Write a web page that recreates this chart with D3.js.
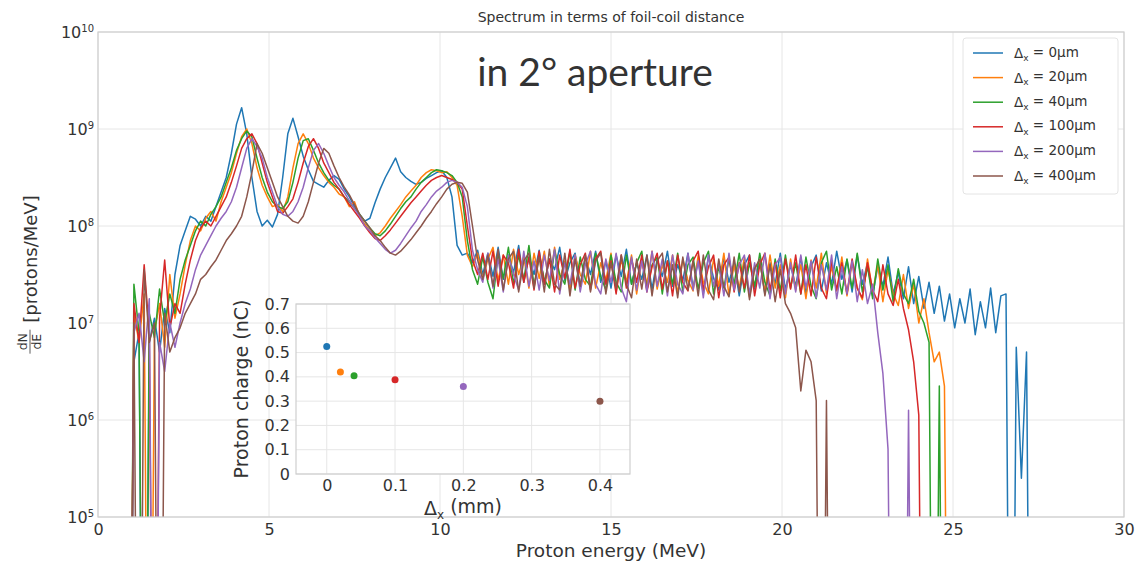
<!DOCTYPE html>
<html>
<head>
<meta charset="utf-8">
<script src="https://cdn.jsdelivr.net/npm/d3@7"></script>
<style>
body { margin: 0; background: #fff; }
svg text { font-family: "DejaVu Sans", sans-serif; fill: #333; }
</style>
</head>
<body>
<div id="chart"></div>
<script>
// energy bins: first bin and bin width (MeV)
var E0 = 0.9;
var dE = 0.15;

// log10(dN/dE) per bin; 0 = empty bin
var spec0um = [
  0, 6.6, 6.9, 0, 6.8, 7.05, 6.7, 7.15, 6.9, 7.5,
  7.8, 7.95, 8.1, 8.07, 8.0, 8.1, 8.05, 8.2, 8.35, 8.5,
  8.75, 9.05, 9.22, 8.95, 8.5, 8.15, 8.0, 8.06, 7.99, 8.12,
  8.5, 8.95, 9.11, 8.92, 8.72, 8.58, 8.46, 8.43, 8.4, 8.47,
  8.52, 8.48, 8.38, 8.3, 8.2, 8.12, 8.05, 8.08, 8.24, 8.38,
  8.5, 8.6, 8.7, 8.56, 8.5, 8.46, 8.43, 8.45, 8.49, 8.52,
  8.55, 8.57, 8.5, 8.3, 7.8, 7.7, 7.72, 7.62, 7.75, 7.5,
  7.72, 7.48, 7.78, 7.45, 7.7, 7.52, 7.8, 7.42, 7.68, 7.5,
  7.75, 7.4, 7.66, 7.55, 7.78, 7.44, 7.62, 7.72, 7.38, 7.68,
  7.5, 7.74, 7.42, 7.64, 7.36, 7.7, 7.48, 7.76, 7.4, 7.62,
  7.45, 7.7, 7.35, 7.66, 7.48, 7.74, 7.38, 7.6, 7.44, 7.72,
  7.36, 7.65, 7.3, 7.7, 7.46, 7.34, 7.68, 7.42, 7.62, 7.28,
  7.6, 7.7, 7.35, 7.64, 7.3, 7.62, 7.4, 7.72, 7.34, 7.6,
  7.38, 7.68, 7.3, 7.58, 7.7, 7.33, 7.62, 7.4, 7.74, 7.45,
  7.65, 7.32, 7.7, 7.4, 7.62, 7.28, 7.58, 7.38, 7.68, 7.3,
  7.52, 7.25, 7.58, 7.2, 7.48, 7.15, 7.42, 7.1, 7.38, 7.02,
  7.3, 6.95, 7.25, 7.0, 7.35, 6.88, 7.22, 6.95, 7.36, 6.9,
  7.28, 7.3, 0, 6.75, 5.4, 6.7, 0
];
var spec20um = [
  0, 7.1, 6.8, 7.3, 0, 6.9, 7.2, 6.75, 7.5, 7.05,
  7.3, 7.6, 7.85, 8.0, 7.95, 8.08, 8.15, 8.05, 8.25, 8.4,
  8.55, 8.75, 8.92, 9.0, 8.85, 8.6, 8.42, 8.3, 8.2, 8.22,
  8.15, 8.3, 8.6, 8.85, 8.95, 8.85, 8.7, 8.6, 8.52, 8.45,
  8.4, 8.33, 8.3, 8.2, 8.25, 8.1, 8.02, 7.95, 7.9, 7.93,
  8.0, 8.08, 8.15, 8.22, 8.3, 8.36, 8.42, 8.5, 8.55, 8.58,
  8.57, 8.55, 8.56, 8.5, 8.42, 8.1, 7.7, 7.58, 7.72, 7.45,
  7.66, 7.78, 7.44, 7.7, 7.4, 7.76, 7.5, 7.68, 7.36, 7.72,
  7.46, 7.74, 7.38, 7.78, 7.45, 7.64, 7.34, 7.7, 7.5, 7.4,
  7.74, 7.36, 7.62, 7.44, 7.72, 7.32, 7.66, 7.42, 7.7, 7.3,
  7.64, 7.4, 7.74, 7.35, 7.6, 7.42, 7.7, 7.3, 7.66, 7.44,
  7.33, 7.7, 7.42, 7.3, 7.66, 7.38, 7.72, 7.28, 7.6, 7.36,
  7.68, 7.27, 7.56, 7.64, 7.32, 7.7, 7.36, 7.6, 7.26, 7.66,
  7.34, 7.6, 7.25, 7.65, 7.36, 7.72, 7.3, 7.58, 7.33, 7.68,
  7.28, 7.62, 7.36, 7.24, 7.66, 7.32, 7.6, 7.22, 7.55, 7.3,
  7.18, 7.5, 7.15, 7.4, 7.0, 7.25, 6.9, 6.6, 6.7, 6.35,
  0
];
var spec40um = [
  0, 7.4, 6.9, 0, 7.1, 6.85, 7.35, 7.0, 7.3, 7.1,
  7.45, 7.65, 7.8, 7.95, 8.05, 8.0, 8.12, 8.2, 8.3, 8.45,
  8.6, 8.78, 8.9, 8.98, 8.92, 8.7, 8.5, 8.35, 8.25, 8.2,
  8.18, 8.25, 8.45, 8.7, 8.88, 8.9, 8.78, 8.65, 8.55, 8.47,
  8.42, 8.38, 8.3, 8.25, 8.18, 8.12, 8.05, 7.98, 7.92, 7.9,
  7.95, 8.02, 8.1, 8.18, 8.25, 8.3, 8.38, 8.45, 8.5, 8.55,
  8.58, 8.57, 8.55, 8.52, 8.45, 8.3, 7.85, 7.55, 7.4, 7.68,
  7.42, 7.25, 7.7, 7.46, 7.78, 7.4, 7.7, 7.44, 7.8, 7.38,
  7.7, 7.45, 7.36, 7.75, 7.5, 7.4, 7.74, 7.34, 7.68, 7.45,
  7.38, 7.72, 7.48, 7.34, 7.7, 7.42, 7.32, 7.7, 7.4, 7.62,
  7.74, 7.34, 7.6, 7.68, 7.3, 7.64, 7.4, 7.72, 7.32, 7.6,
  7.68, 7.35, 7.62, 7.74, 7.3, 7.58, 7.36, 7.66, 7.4, 7.72,
  7.32, 7.62, 7.38, 7.72, 7.42, 7.28, 7.66, 7.33, 7.7, 7.36,
  7.62, 7.3, 7.68, 7.38, 7.25, 7.62, 7.74, 7.34, 7.58, 7.3,
  7.66, 7.36, 7.72, 7.32, 7.58, 7.25, 7.66, 7.34, 7.6, 7.22,
  7.56, 7.3, 7.2, 7.45, 7.12, 7.0, 6.8, 0, 6.35, 0
];
var spec100um = [
  0, 7.2, 6.8, 7.6, 6.9, 0, 7.05, 7.65, 6.95, 7.2,
  7.1, 7.4, 7.65, 7.85, 7.98, 8.05, 8.0, 8.1, 8.2, 8.3,
  8.45, 8.62, 8.8, 8.9, 8.95, 8.85, 8.65, 8.45, 8.3, 8.15,
  8.13, 8.2, 8.28, 8.45, 8.65, 8.82, 8.9, 8.8, 8.65, 8.55,
  8.45, 8.38, 8.3, 8.22, 8.15, 8.08, 8.0, 7.93, 7.87, 7.85,
  7.9, 7.96, 8.03, 8.1, 8.17, 8.24, 8.3, 8.36, 8.42, 8.47,
  8.5, 8.52, 8.5, 8.48, 8.45, 8.38, 8.0, 7.65, 7.5, 7.72,
  7.45, 7.74, 7.38, 7.7, 7.62, 7.36, 7.76, 7.42, 7.68, 7.34,
  7.74, 7.4, 7.66, 7.32, 7.7, 7.46, 7.76, 7.36, 7.6, 7.72,
  7.34, 7.66, 7.74, 7.4, 7.64, 7.3, 7.7, 7.36, 7.66, 7.42,
  7.7, 7.32, 7.58, 7.72, 7.35, 7.64, 7.28, 7.7, 7.42, 7.33,
  7.64, 7.74, 7.34, 7.58, 7.7, 7.26, 7.6, 7.68, 7.32, 7.62,
  7.36, 7.7, 7.28, 7.6, 7.72, 7.34, 7.62, 7.26, 7.66, 7.35,
  7.7, 7.3, 7.6, 7.28, 7.68, 7.36, 7.25, 7.64, 7.34, 7.62,
  7.3, 7.66, 7.36, 7.26, 7.62, 7.34, 7.22, 7.6, 7.3, 7.18,
  7.45, 7.15, 6.93, 6.6, 6.05, 0
];
var spec200um = [
  0, 6.9, 7.1, 6.6, 7.25, 0, 6.8, 6.5, 7.0, 6.75,
  7.0, 7.2, 7.35, 7.55, 7.7, 7.8, 7.9, 8.0, 8.08, 8.15,
  8.25, 8.4, 8.6, 8.8, 8.9, 8.82, 8.7, 8.5, 8.35, 8.2,
  8.12, 8.1, 8.15, 8.25, 8.4, 8.6, 8.78, 8.85, 8.75, 8.62,
  8.5, 8.42, 8.35, 8.26, 8.18, 8.1, 8.0, 7.95, 7.88, 7.82,
  7.76, 7.72, 7.75, 7.82, 7.9, 7.98, 8.05, 8.15, 8.22, 8.3,
  8.36, 8.4, 8.45, 8.47, 8.45, 8.4, 8.2, 7.75, 7.55, 7.42,
  7.72, 7.36, 7.66, 7.32, 7.7, 7.5, 7.34, 7.74, 7.38, 7.64,
  7.34, 7.7, 7.44, 7.76, 7.3, 7.62, 7.4, 7.7, 7.32, 7.6,
  7.74, 7.4, 7.3, 7.66, 7.42, 7.72, 7.36, 7.22, 7.68, 7.34,
  7.64, 7.32, 7.74, 7.38, 7.66, 7.28, 7.7, 7.4, 7.3, 7.72,
  7.34, 7.64, 7.26, 7.7, 7.38, 7.62, 7.28, 7.72, 7.34, 7.6,
  7.7, 7.3, 7.62, 7.36, 7.72, 7.25, 7.6, 7.68, 7.3, 7.62,
  7.32, 7.7, 7.36, 7.64, 7.26, 7.6, 7.34, 7.7, 7.25, 7.58,
  7.3, 7.64, 7.22, 7.55, 7.2, 7.4, 6.9, 6.48, 5.7, 0,
  0, 0, 6.1, 0
];
var spec400um = [
  0, 7.0, 0, 7.55, 6.8, 7.0, 0, 7.1, 6.7, 6.85,
  6.95, 7.1, 7.2, 7.3, 7.45, 7.5, 7.58, 7.65, 7.75, 7.85,
  7.92, 8.0, 8.1, 8.3, 8.55, 8.85, 8.75, 8.6, 8.45, 8.3,
  8.2, 8.1, 8.05, 8.03, 8.1, 8.25, 8.45, 8.65, 8.8, 8.75,
  8.62, 8.5, 8.4, 8.32, 8.22, 8.12, 8.05, 7.98, 7.9, 7.85,
  7.78, 7.72, 7.7, 7.74, 7.8, 7.86, 7.93, 8.0, 8.08, 8.15,
  8.23, 8.3, 8.38, 8.43, 8.45, 8.44, 8.35, 8.0, 7.65, 7.45,
  7.7, 7.38, 7.76, 7.34, 7.66, 7.74, 7.32, 7.64, 7.72, 7.36,
  7.68, 7.32, 7.76, 7.4, 7.34, 7.72, 7.28, 7.66, 7.38, 7.7,
  7.32, 7.64, 7.72, 7.3, 7.62, 7.36, 7.7, 7.4, 7.26, 7.66,
  7.35, 7.7, 7.28, 7.64, 7.72, 7.32, 7.6, 7.26, 7.68, 7.34,
  7.64, 7.28, 7.7, 7.34, 7.24, 7.66, 7.38, 7.27, 7.68, 7.32,
  7.62, 7.24, 7.56, 7.66, 7.28, 7.6, 7.22, 7.55, 7.2, 7.1,
  6.95, 6.3, 6.72, 6.6, 6.2, 0, 6.2, 0
];

var seriesData = [spec0um, spec20um, spec40um, spec100um, spec200um, spec400um];
var legendLabels = ["0μm", "20μm", "40μm", "100μm", "200μm", "400μm"];
var colors = ["#1f77b4", "#ff7f0e", "#2ca02c", "#d62728", "#9467bd", "#8c564b"];

var xTicks = [0, 5, 10, 15, 20, 25, 30];
var yTicks = [1e5, 1e6, 1e7, 1e8, 1e9, 1e10];

// inset: proton charge vs foil-coil distance
var insetDelta = [0, 0.02, 0.04, 0.1, 0.2, 0.4];
var insetCharge = [0.525, 0.42, 0.405, 0.388, 0.36, 0.30];
var insetXTicks = [0, 0.1, 0.2, 0.3, 0.4];
var insetYTicks = [0, 0.1, 0.2, 0.3, 0.4, 0.5, 0.6, 0.7];

var width = 1142;
var height = 566;
// plot box (window.top is read-only, so use own names)
var pLeft = 98, pRight = 1124, pTop = 32, pBottom = 517;
var gridColor = "#e6e6e6";
var spineColor = "#cfcfcf";

var svg = d3.select('#chart').append('svg')
      .attr('width', width)
      .attr('height', height)

var x = d3.scaleLinear().domain([0, 30]).range([pLeft, pRight]);
var y = d3.scaleLog().domain([1e5, 1e10]).range([pBottom, pTop]);

// grid
svg.append('g').selectAll('line').data(xTicks).enter().append('line')
      .attr('x1', d => x(d)).attr('x2', d => x(d))
      .attr('y1', pTop).attr('y2', pBottom)
      .attr('stroke', gridColor)
svg.append('g').selectAll('line').data(yTicks).enter().append('line')
      .attr('x1', pLeft).attr('x2', pRight)
      .attr('y1', d => y(d)).attr('y2', d => y(d))
      .attr('stroke', gridColor)

// axes
var xAxis = d3.axisBottom(x).tickValues(xTicks).tickSize(0).tickPadding(7).tickFormat(d3.format('d'));
var yAxis = d3.axisLeft(y).tickValues(yTicks).tickSize(0).tickPadding(4).tickFormat(d => '10');

var gx = svg.append('g').attr('transform', 'translate(0,' + pBottom + ')').call(xAxis);
var gy = svg.append('g').attr('transform', 'translate(' + pLeft + ',0)').call(yAxis);
[gx, gy].forEach(function (g) {
      g.select('.domain').remove();
      g.selectAll('text').style('font-size', '16px').attr('fill', '#333');
});
// put the exponent as superscript
gy.selectAll('.tick text').each(function (d) {
      var t = d3.select(this);
      t.text('10');
      t.append('tspan').attr('dy', '-0.6em').style('font-size', '10px').text(Math.round(Math.log10(d)));
});

// lines
svg.append('clipPath').attr('id', 'plotClip').append('rect')
      .attr('x', pLeft).attr('y', pTop).attr('width', pRight - pLeft).attr('height', pBottom - pTop);

var line = d3.line()
      .x((d, i) => x(E0 + i * dE))
      .y(d => y(Math.pow(10, d)));

svg.append('g').attr('clip-path', 'url(#plotClip)')
      .selectAll('path').data(seriesData).enter().append('path')
      .attr('d', d => line(d))
      .attr('fill', 'none')
      .attr('stroke', (d, i) => colors[i])
      .attr('stroke-width', 1.5)
      .attr('stroke-linejoin', 'round')

// frame
svg.append('rect')
      .attr('x', pLeft).attr('y', pTop).attr('width', pRight - pLeft).attr('height', pBottom - pTop)
      .attr('fill', 'none').attr('stroke', spineColor).attr('stroke-width', 1.2)

// title and labels
svg.append('text')
      .attr('x', (pLeft + pRight) / 2).attr('y', 22)
      .style('text-anchor', 'middle').style('font-size', '14px')
      .text('Spectrum in terms of foil-coil distance')

svg.append('text')
      .attr('x', (pLeft + pRight) / 2).attr('y', 557)
      .style('text-anchor', 'middle').style('font-size', '18.5px')
      .text('Proton energy (MeV)')

svg.append('text')
      .attr('x', 595).attr('y', 86)
      .style('text-anchor', 'middle').style('font-size', '39px')
      .style('font-family', 'Lato, sans-serif').attr('fill', '#222')
      .text('in 2° aperture')

// y label: fraction dN/dE followed by [protons/MeV], rotated
var yl = svg.append('g').attr('transform', 'translate(30,' + ((pTop + pBottom) / 2) + ') rotate(-90)');
var ylText = yl.append('text').attr('y', 7).style('font-size', '18px').text('[protons/MeV]');
var textLen = ylText.node().getComputedTextLength();
var fracW = 24, gap = 7;
var startX = -(fracW + gap + textLen) / 2;
ylText.attr('x', startX + fracW + gap);
yl.append('text').attr('x', startX + fracW / 2).attr('y', -3)
      .style('text-anchor', 'middle').style('font-size', '12.5px').text('dN');
yl.append('line').attr('x1', startX).attr('x2', startX + fracW)
      .attr('y1', 0).attr('y2', 0).attr('stroke', '#333').attr('stroke-width', 0.8);
yl.append('text').attr('x', startX + fracW / 2).attr('y', 11)
      .style('text-anchor', 'middle').style('font-size', '12.5px').text('dE');

// legend
var legend = svg.append('g');
legend.append('rect')
      .attr('x', 963).attr('y', 38).attr('width', 155).attr('height', 156)
      .attr('rx', 3).attr('fill', '#fff').attr('stroke', '#e4e4e4')
var rows = legend.selectAll('g.row').data(legendLabels).enter().append('g')
      .attr('transform', (d, i) => 'translate(0,' + (53 + i * 24.6) + ')');
rows.append('line').attr('x1', 973).attr('x2', 1003).attr('y1', 0).attr('y2', 0)
      .attr('stroke', (d, i) => colors[i]).attr('stroke-width', 1.5);
var lt = rows.append('text').attr('x', 1014).attr('y', 5).style('font-size', '13.5px');
lt.append('tspan').text('Δ');
lt.append('tspan').attr('dy', '0.3em').style('font-size', '9px').text('x');
lt.append('tspan').attr('dy', '-0.3em').text(d => ' = ' + d);

// inset
var ix = d3.scaleLinear().domain([-0.045, 0.444]).range([296, 630]);
var iy = d3.scaleLinear().domain([0, 0.7]).range([474, 304]);
var inset = svg.append('g');
inset.append('rect').attr('x', 296).attr('y', 304).attr('width', 334).attr('height', 170).attr('fill', '#fff');
inset.append('g').selectAll('line').data(insetXTicks).enter().append('line')
      .attr('x1', d => ix(d)).attr('x2', d => ix(d)).attr('y1', 304).attr('y2', 474)
      .attr('stroke', gridColor)
inset.append('g').selectAll('line').data(insetYTicks).enter().append('line')
      .attr('x1', 296).attr('x2', 630).attr('y1', d => iy(d)).attr('y2', d => iy(d))
      .attr('stroke', gridColor)
var tickFmt = d => d === 0 ? '0' : d3.format('.1f')(d);
var igx = inset.append('g').attr('transform', 'translate(0,474)')
      .call(d3.axisBottom(ix).tickValues(insetXTicks).tickSize(0).tickPadding(6).tickFormat(tickFmt));
var igy = inset.append('g').attr('transform', 'translate(296,0)')
      .call(d3.axisLeft(iy).tickValues(insetYTicks).tickSize(0).tickPadding(6).tickFormat(tickFmt));
[igx, igy].forEach(function (g) {
      g.select('.domain').remove();
      g.selectAll('text').style('font-size', '16px').attr('fill', '#333');
});
inset.append('rect').attr('x', 296).attr('y', 304).attr('width', 334).attr('height', 170)
      .attr('fill', 'none').attr('stroke', spineColor).attr('stroke-width', 1.2);
inset.selectAll('circle').data(insetDelta).enter().append('circle')
      .attr('cx', d => ix(d))
      .attr('cy', (d, i) => iy(insetCharge[i]))
      .attr('r', 3.5)
      .attr('fill', (d, i) => colors[i])

inset.append('text')
      .attr('transform', 'translate(248,389) rotate(-90)')
      .style('text-anchor', 'middle').style('font-size', '19px')
      .text('Proton charge (nC)')
var ixl = inset.append('text').attr('x', 463).attr('y', 515)
      .style('text-anchor', 'middle').style('font-size', '19px');
ixl.append('tspan').text('Δ');
ixl.append('tspan').attr('dy', '0.3em').style('font-size', '12px').text('x');
ixl.append('tspan').attr('dy', '-0.3em').text(' (mm)');
</script>
</body>
</html>
